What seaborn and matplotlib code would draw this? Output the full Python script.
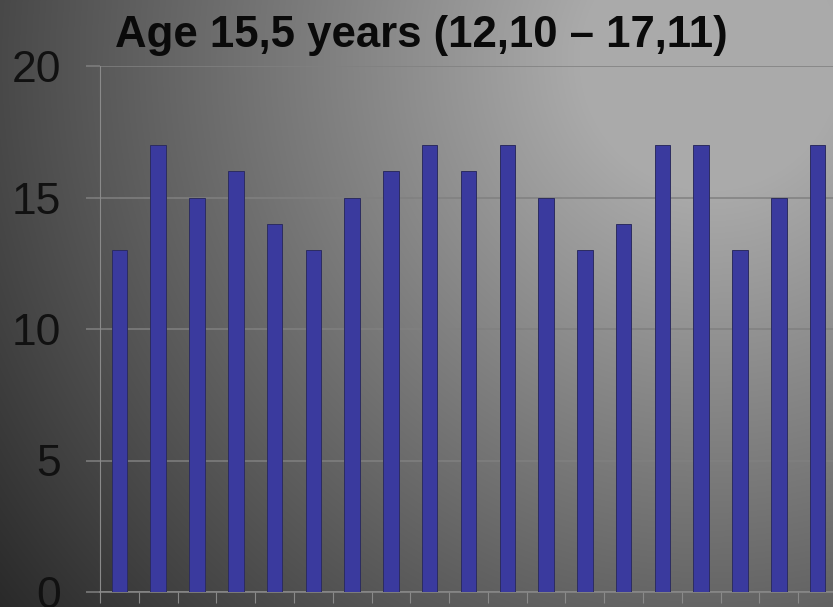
import numpy as np
import pandas as pd
import matplotlib
matplotlib.use("Agg")
import matplotlib.pyplot as plt
import seaborn as sns

# Scores per participant
participants = [str(i) for i in range(1, 20)]
scores = [13, 17, 15, 16, 14, 13, 15, 16, 17, 16, 17, 15, 13, 14, 17, 17, 13, 15, 17]
y_ticks = [0, 5, 10, 15, 20]
title_text = "Age 15,5 years (12,10 \u2013 17,11)"

sns.set_theme(style="white")
plt.rcParams["font.family"] = ["Liberation Sans", "DejaVu Sans"]

W, H = 833, 607
fig = plt.figure(figsize=(W / 100, H / 100), dpi=100)

# Gray radial backdrop, brightest toward the upper right
bg = fig.add_axes([0, 0, 1, 1], zorder=0)
xx, yy = np.meshgrid(np.arange(W), np.arange(H))
d = np.hypot(xx - 710, yy - 60)
v = np.clip(192 - 0.168 * d, 30, 170) / 255.0
bg.imshow(np.dstack([v, v, v]), aspect="auto", extent=[0, W, H, 0], interpolation="bilinear")
bg.set_axis_off()

left, right, top, bottom = 100, 837, 66, 592
ax = fig.add_axes([left / W, (H - bottom) / H, (right - left) / W, (bottom - top) / H], zorder=1)
ax.set_facecolor("none")

df = pd.DataFrame({"participant": participants, "score": scores})
sns.barplot(data=df, x="participant", y="score", color="#3a3a9e", saturation=1,
            width=0.4, edgecolor="#2c2c60", linewidth=0.7, ax=ax, zorder=3)

ax.set_ylim(0, 20)
ax.set_xlim(-0.5, len(participants) - 0.5)
ax.set_yticks(y_ticks)
ax.set_yticklabels([str(t) for t in y_ticks], fontsize=32, color="#111111")
ax.set_xticks(np.arange(-0.5, len(participants), 1.0))
ax.set_xticklabels([])
ax.set_xlabel("")
ax.set_ylabel("")

ax.grid(axis="y", color="#808080", linewidth=1.1, zorder=0)
ax.set_axisbelow(True)
for side in ["top", "right"]:
    ax.spines[side].set_visible(False)
ax.spines["left"].set_color("#8a8a8a")
ax.spines["left"].set_linewidth(0.8)
ax.spines["bottom"].set_color("#8a8a8a")
ax.spines["bottom"].set_linewidth(1.1)
ax.tick_params(axis="x", direction="out", length=8, width=0.8, color="#8a8a8a", bottom=True)
ax.tick_params(axis="y", direction="out", length=10, width=1.1, color="#808080", left=True, pad=18)

fig.text(421 / W, 1 - 36 / H, title_text, ha="center", va="center",
         fontsize=31.5, fontweight="bold", color="#0a0a0a")

fig.savefig("out.png", dpi=100)
